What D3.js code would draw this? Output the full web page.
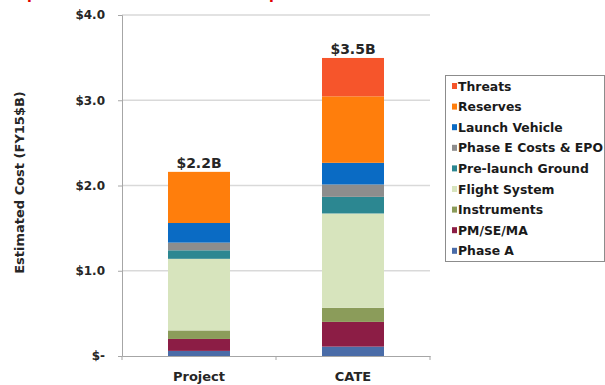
<!DOCTYPE html>
<html><head><meta charset="utf-8">
<script src="https://cdn.jsdelivr.net/npm/d3@7"></script>
<style>body{margin:0;background:#fff}svg{display:block}text{font-family:"DejaVu Sans",sans-serif;font-weight:bold}</style>
</head><body>
<svg id="c" width="605" height="385"></svg>
<script>
const categories = ["Project", "CATE"];
const seriesNames = ["Phase A", "PM/SE/MA", "Instruments", "Flight System", "Pre-launch Ground", "Phase E Costs & EPO", "Launch Vehicle", "Reserves", "Threats"];
const projectValues = [0.06, 0.14, 0.10, 0.84, 0.10, 0.09, 0.23, 0.60, 0.00];
const cateValues = [0.11, 0.29, 0.165, 1.107, 0.195, 0.145, 0.254, 0.78, 0.45];
const totalLabels = ["$2.2B", "$3.5B"];
const yTicks = [0, 1, 2, 3, 4];
const yTickLabels = ["$-", "$1.0", "$2.0", "$3.0", "$4.0"];
const colors = ["#4a6ca8", "#8c1d45", "#8b9c5a", "#d7e4bd", "#2c8791", "#8d8d8d", "#0a6bc4", "#ff7e0c", "#f6552b"];

const FONT = "'DejaVu Sans',sans-serif";
const svg = d3.select("#c");
const x = d3.scaleBand().domain(categories).range([122, 430]);
const y = d3.scaleLinear().domain([0, 4]).range([356, 15]);
const barW = 62;

const rows = categories.map((c, i) => {
  const o = {cat: c};
  const vals = i === 0 ? projectValues : cateValues;
  seriesNames.forEach((s, j) => o[s] = vals[j]);
  return o;
});
const stack = d3.stack().keys(seriesNames)(rows);

// gridlines
svg.append("g").selectAll("line").data(yTicks.slice(1)).join("line")
  .attr("x1", 122).attr("x2", 430).attr("y1", d => y(d)).attr("y2", d => y(d))
  .attr("stroke", "#d9d9d9").attr("stroke-width", 1.5);

// bars
svg.append("g").selectAll("g").data(stack).join("g")
  .attr("fill", (d, i) => colors[i])
  .selectAll("rect").data(d => d).join("rect")
  .attr("x", d => x(d.data.cat) + x.bandwidth() / 2 - barW / 2)
  .attr("width", barW)
  .attr("y", d => y(d[1]))
  .attr("height", d => y(d[0]) - y(d[1]));

// y axis
const yAxis = d3.axisLeft(y).tickValues(yTicks).tickFormat((d, i) => yTickLabels[i]).tickSize(4).tickPadding(13);
const ga = svg.append("g").attr("transform", "translate(122,0)").call(yAxis);
ga.select(".domain").attr("stroke", "#a6a6a6");
ga.selectAll(".tick line").attr("stroke", "#a6a6a6");
ga.selectAll(".tick text").attr("font-size", 12).attr("fill", "#262626").attr("font-family", FONT).attr("font-weight", "bold");

// x axis
const xAxis = d3.axisBottom(x).tickSize(0).tickPadding(16);
const gx = svg.append("g").attr("transform", "translate(0,356)").call(xAxis);
gx.select(".domain").attr("stroke", "#a6a6a6");
gx.selectAll(".tick text").attr("font-size", 13).attr("fill", "#262626").attr("font-family", FONT).attr("font-weight", "bold");
svg.append("g").selectAll("line").data([122, 276, 430]).join("line")
  .attr("x1", d => d).attr("x2", d => d).attr("y1", 356).attr("y2", 360).attr("stroke", "#a6a6a6");

// totals
const totals = categories.map((c, i) => d3.sum(i === 0 ? projectValues : cateValues));
svg.append("g").selectAll("text").data(categories).join("text")
  .attr("x", d => x(d) + x.bandwidth() / 2)
  .attr("y", (d, i) => y(totals[i]) - 4)
  .attr("text-anchor", "middle").attr("font-size", 14).attr("fill", "#262626")
  .text((d, i) => totalLabels[i]);

// y title
svg.append("text").attr("transform", "translate(23.5,182.5) rotate(-90)")
  .attr("text-anchor", "middle").attr("font-size", 13).attr("fill", "#262626")
  .text("Estimated Cost (FY15$B)");

// legend
const lg = svg.append("g");
lg.append("rect").attr("x", 445.5).attr("y", 75.5).attr("width", 159).attr("height", 186)
  .attr("fill", "#fff").attr("stroke", "#8c8c8c");
const legendOrder = seriesNames.map((s, i) => i).reverse();
const li = lg.selectAll("g").data(legendOrder).join("g")
  .attr("transform", (d, k) => `translate(452,${86 + k * 20.6})`);
li.append("rect").attr("x", 0).attr("y", -3).attr("width", 5).attr("height", 6).attr("fill", d => colors[d]);
li.append("text").attr("x", 6).attr("y", 4.5).attr("font-size", 12.4).attr("fill", "#1a1a1a")
  .text(d => seriesNames[d]);

// cut-off red heading fragments (the heading lies above the visible area)
svg.append("text").attr("x", 27).attr("y", -1).attr("font-size", 14).attr("fill", "#e00000").text("p");
svg.append("text").attr("x", 269).attr("y", -1).attr("font-size", 14).attr("fill", "#e00000").text("p");
</script>
</body></html>
